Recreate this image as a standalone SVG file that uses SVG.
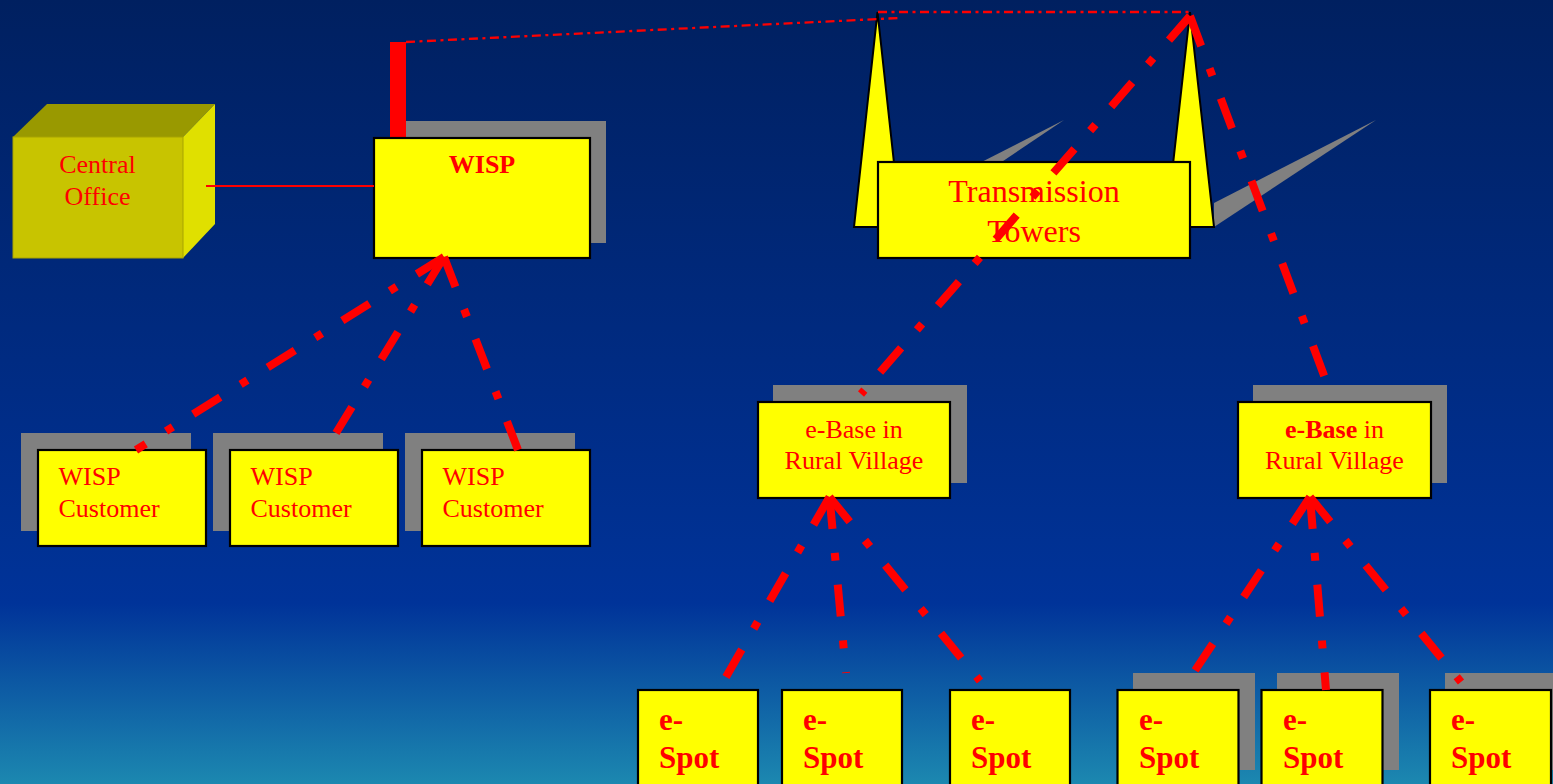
<svg xmlns="http://www.w3.org/2000/svg" width="1553" height="784" viewBox="0 0 1553 784">
<defs>
<linearGradient id="bg" x1="0" y1="0" x2="0" y2="1">
<stop offset="0" stop-color="#002060"/>
<stop offset="0.5" stop-color="#002c85"/>
<stop offset="0.77" stop-color="#003399"/>
<stop offset="1" stop-color="#1c88b0"/>
</linearGradient>
<style>
.box{fill:#ffff00;stroke:#000;stroke-width:2.2}
.sh{fill:#808080}
.t{font-family:"Liberation Serif","Times New Roman",serif;fill:#ff0000}
.r26{font-size:26px}
.b26{font-size:26px;font-weight:bold}
.b31{font-size:31px;font-weight:bold}
.lk{fill:none;stroke:#ff0000;stroke-width:8;stroke-dasharray:32 24 8 24}
.thin{fill:none;stroke:#ff0000;stroke-width:2.3;stroke-dasharray:9 4.5 3 4.5}
.tower{fill:#ffff00;stroke:#000;stroke-width:2;stroke-linejoin:miter}
</style>
</defs>
<rect x="0" y="0" width="1553" height="784" fill="url(#bg)"/>

<g id="central-office">
<polygon points="13,137 47,104 215,104 183,137" fill="#999900"/>
<polygon points="183,137 215,104 215,224 183,258" fill="#e0e000"/>
<rect x="13" y="137" width="170" height="121" fill="#c8c400" stroke="#a8a400" stroke-width="1"/>
<text class="t r26" x="97.5" y="173" text-anchor="middle">Central</text>
<text class="t r26" x="97.5" y="205" text-anchor="middle">Office</text>
</g>

<g id="wisp">
<rect class="sh" x="398" y="121" width="208" height="122"/>
<rect x="390" y="42" width="16" height="96" fill="#ff0000"/>
<rect class="box" x="374" y="138" width="216" height="120"/>
<text class="t b26" x="482" y="173" text-anchor="middle">WISP</text>
</g>

<g id="transmission-towers">
<polygon class="sh" points="901,203 1064,120 905,227"/>
<polygon class="sh" points="1214,203 1376,120 1214,227"/>
<polygon class="tower" points="877.5,12 854,227 901,227"/>
<polygon class="tower" points="1190,12 1166,227 1214,227"/>
<rect class="box" x="878" y="162" width="312" height="96"/>
<text class="t" font-size="32" x="1034" y="202" text-anchor="middle">Transmission</text>
<text class="t" font-size="32" x="1034" y="242" text-anchor="middle">Towers</text>
</g>

<g id="wisp-customer-1">
<rect class="sh" x="21" y="433" width="170" height="98"/>
<rect class="box" x="38" y="450" width="168" height="96"/>
<text class="t r26" x="58.5" y="485">WISP</text>
<text class="t r26" x="58.5" y="517">Customer</text>
</g>
<g id="wisp-customer-2">
<rect class="sh" x="213" y="433" width="170" height="98"/>
<rect class="box" x="230" y="450" width="168" height="96"/>
<text class="t r26" x="250.5" y="485">WISP</text>
<text class="t r26" x="250.5" y="517">Customer</text>
</g>
<g id="wisp-customer-3">
<rect class="sh" x="405" y="433" width="170" height="98"/>
<rect class="box" x="422" y="450" width="168" height="96"/>
<text class="t r26" x="442.5" y="485">WISP</text>
<text class="t r26" x="442.5" y="517">Customer</text>
</g>

<g id="e-base-1">
<rect class="sh" x="773" y="385" width="194" height="98"/>
<rect class="box" x="758" y="402" width="192" height="96"/>
<text class="t r26" x="854" y="438" text-anchor="middle">e-Base in</text>
<text class="t r26" x="854" y="469" text-anchor="middle">Rural Village</text>
</g>
<g id="e-base-2">
<rect class="sh" x="1253" y="385" width="194" height="98"/>
<rect class="box" x="1238" y="402" width="193" height="96"/>
<text class="t r26" x="1334.5" y="438" text-anchor="middle"><tspan font-weight="bold">e-Base</tspan> in</text>
<text class="t r26" x="1334.5" y="469" text-anchor="middle">Rural Village</text>
</g>

<g id="e-spot-1">
<rect class="box" x="638" y="690" width="120" height="100"/>
<text class="t b31" x="659" y="730">e-</text>
<text class="t b31" x="659" y="768">Spot</text>
</g>
<g id="e-spot-2">
<rect class="box" x="782" y="690" width="120" height="100"/>
<text class="t b31" x="803" y="730">e-</text>
<text class="t b31" x="803" y="768">Spot</text>
</g>
<g id="e-spot-3">
<rect class="box" x="950" y="690" width="120" height="100"/>
<text class="t b31" x="971" y="730">e-</text>
<text class="t b31" x="971" y="768">Spot</text>
</g>
<g id="e-spot-4">
<rect class="sh" x="1133" y="673" width="122" height="97"/>
<rect class="box" x="1117.5" y="690" width="121" height="100"/>
<text class="t b31" x="1139" y="730">e-</text>
<text class="t b31" x="1139" y="768">Spot</text>
</g>
<g id="e-spot-5">
<rect class="sh" x="1277" y="673" width="122" height="97"/>
<rect class="box" x="1261.5" y="690" width="121" height="100"/>
<text class="t b31" x="1283" y="730">e-</text>
<text class="t b31" x="1283" y="768">Spot</text>
</g>
<g id="e-spot-6">
<rect class="sh" x="1445" y="673" width="122" height="97"/>
<rect class="box" x="1430" y="690" width="121" height="100"/>
<text class="t b31" x="1451" y="730">e-</text>
<text class="t b31" x="1451" y="768">Spot</text>
</g>

<g id="connectors">
<line x1="206" y1="186" x2="374" y2="186" stroke="#ff0000" stroke-width="2"/>
<polyline class="thin" points="406,42 899,18"/>
<polyline class="thin" points="878,12 1190,12"/>
<line class="lk" x1="444" y1="257" x2="136" y2="450"/>
<line class="lk" x1="444" y1="257" x2="336" y2="433"/>
<line class="lk" x1="444" y1="257" x2="518" y2="450"/>
<line class="lk" x1="1190" y1="16" x2="861" y2="394"/>
<line class="lk" x1="1190" y1="16" x2="1325" y2="378"/>
<line class="lk" x1="829.5" y1="497" x2="726" y2="677"/>
<line class="lk" x1="829.5" y1="497" x2="846" y2="673"/>
<line class="lk" x1="829.5" y1="497" x2="980" y2="681"/>
<line class="lk" x1="1310" y1="497" x2="1194" y2="672"/>
<line class="lk" x1="1310" y1="497" x2="1326" y2="690"/>
<line class="lk" x1="1310" y1="497" x2="1461" y2="682"/>
</g>
</svg>
